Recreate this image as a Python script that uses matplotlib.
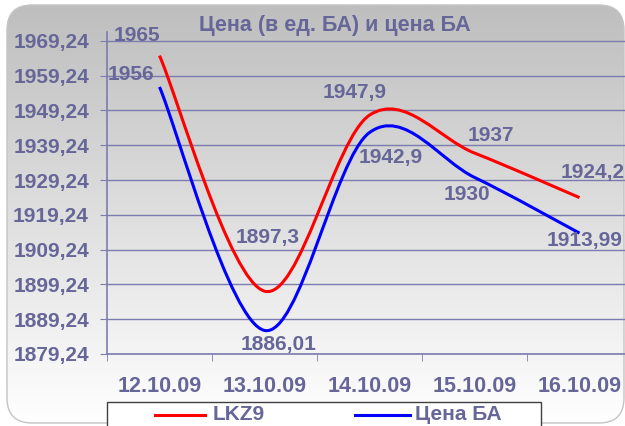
import numpy as np
import matplotlib
matplotlib.use('Agg')
import matplotlib.pyplot as plt
from matplotlib.path import Path
from matplotlib.patches import PathPatch, FancyBboxPatch, Rectangle
from matplotlib.lines import Line2D
from matplotlib.colors import LinearSegmentedColormap

plt.rcParams['font.family'] = ['Liberation Sans', 'DejaVu Sans']
plt.rcParams['font.weight'] = 'bold'

dates = ['12.10.09', '13.10.09', '14.10.09', '15.10.09', '16.10.09']
lkz9 = [1965, 1897.3, 1947.9, 1937, 1924.2]
cena_ba = [1956, 1886.01, 1942.9, 1930, 1913.99]
lkz9_labels = ['1965', '1897,3', '1947,9', '1937', '1924,2']
cena_labels = ['1956', '1886,01', '1942,9', '1930', '1913,99']
yticks = [1879.24, 1889.24, 1899.24, 1909.24, 1919.24, 1929.24, 1939.24, 1949.24, 1959.24, 1969.24]
ytick_labels = ['1879,24', '1889,24', '1899,24', '1909,24', '1919,24', '1929,24', '1939,24', '1949,24', '1959,24', '1969,24']
names = ['LKZ9', 'Цена БА']

txt = '#666699'
grid_c = '#7c7cae'

fig = plt.figure(figsize=(6.25, 4.26), dpi=100)

# фон с градиентом и скругленными углами
bg = fig.add_axes([0, 0, 1, 1], zorder=-10)
bg.set_xlim(0, 625)
bg.set_ylim(426, 0)
bg.axis('off')
cmap = LinearSegmentedColormap.from_list('g', ['#bebebe', '#ffffff'])
grad = np.linspace(0, 1, 256).reshape(-1, 1)
im = bg.imshow(grad, extent=(7, 624, 423, 5), cmap=cmap, aspect='auto', origin='upper')
frame = FancyBboxPatch((7, 5), 617, 418, boxstyle='round,pad=0,rounding_size=25',
                       facecolor='none', edgecolor='#c4c4c4', linewidth=1)
bg.add_patch(frame)
im.set_clip_path(frame)

ax = fig.add_axes([107 / 625, 72 / 426, 525 / 625, 322 / 426])
ax.patch.set_alpha(0)
ax.set_xlim(-0.5, 4.5)
ax.set_ylim(1879.24, 1971.8)


def smooth_path(ys):
    pts = np.column_stack([np.arange(len(ys)), ys]).astype(float)
    padded = np.vstack([pts[0], pts, pts[-1]])
    verts = [pts[0]]
    codes = [Path.MOVETO]
    for i in range(len(pts) - 1):
        p0, p1, p2, p3 = padded[i], padded[i + 1], padded[i + 2], padded[i + 3]
        verts += [p1 + (p2 - p0) / 6, p2 - (p3 - p1) / 6, p2]
        codes += [Path.CURVE4] * 3
    return Path(verts, codes)


ax.add_patch(PathPatch(smooth_path(lkz9), fill=False, edgecolor='#ff0000', linewidth=2.2, zorder=3))
ax.add_patch(PathPatch(smooth_path(cena_ba), fill=False, edgecolor='#0000ff', linewidth=2.2, zorder=3))

# подписи значений
red_off = [(-23, 20), (3, 54), (-15, 23), (16, 18), (13, 25)]
blue_off = [(-29, 12), (14, -14), (21, -25), (-8, -17), (5, -7)]
for i in range(len(dates)):
    ax.annotate(lkz9_labels[i], (i, lkz9[i]), xytext=red_off[i], textcoords='offset pixels',
                ha='center', va='center', color=txt, fontsize=15, fontweight='bold', annotation_clip=False)
    ax.annotate(cena_labels[i], (i, cena_ba[i]), xytext=blue_off[i], textcoords='offset pixels',
                ha='center', va='center', color=txt, fontsize=15, fontweight='bold', annotation_clip=False)

ax.set_yticks(yticks)
ax.set_yticklabels(ytick_labels)
ax.set_xticks(range(len(dates)))
ax.set_xticklabels(dates)
ax.set_xticks(np.arange(-0.5, 4.6, 1), minor=True)
ax.tick_params(axis='y', colors=grid_c, labelcolor=txt, labelsize=15, length=5, pad=8)
ax.tick_params(axis='x', which='major', length=0, pad=16, labelcolor=txt, labelsize=15.5)
ax.tick_params(axis='x', which='minor', length=5, color=grid_c)
ax.grid(axis='y', color=grid_c, linewidth=1)
for s in ['top', 'right']:
    ax.spines[s].set_visible(False)
for s in ['left', 'bottom']:
    ax.spines[s].set_color(grid_c)
    ax.spines[s].set_linewidth(1.2)

fig.text(335 / 625, 1 - 25 / 426, 'Цена (в ед. БА) и цена БА', ha='center', va='center',
         color=txt, fontsize=15.5, fontweight='bold')

# легенда
fig.add_artist(Rectangle((107 / 625, -10 / 426), 434 / 625, 34 / 426, transform=fig.transFigure,
                         facecolor='white', edgecolor='#404040', linewidth=1))
ly = 1 - 415 / 426
fig.add_artist(Line2D([155 / 625, 205 / 625], [ly, ly], color='#ff0000', linewidth=2.2))
fig.text(213 / 625, ly, names[0], ha='left', va='center', color=txt, fontsize=15, fontweight='bold')
fig.add_artist(Line2D([355 / 625, 410 / 625], [ly, ly], color='#0000ff', linewidth=2.2))
fig.text(415 / 625, ly, names[1], ha='left', va='center', color=txt, fontsize=15, fontweight='bold')

fig.savefig('out.png', dpi=100)
